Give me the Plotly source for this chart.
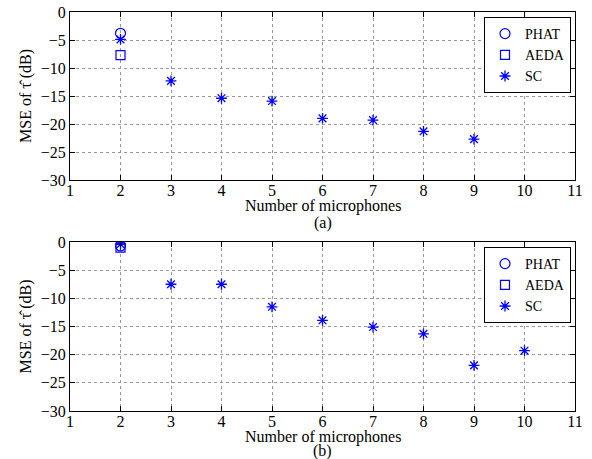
import plotly.graph_objects as go

# x positions (number of microphones)
phat_x = [2]
aeda_x = [2]
sc_x_a = [2, 3, 4, 5, 6, 7, 8, 9]
sc_x_b = [2, 3, 4, 5, 6, 7, 8, 9, 10]

# (a)
phat_a = [-3.8]
aeda_a = [-7.7]
sc_a = [-4.9, -12.3, -15.4, -15.9, -19.0, -19.3, -21.3, -22.7]

# (b)
phat_b = [-0.7]
aeda_b = [-1.0]
sc_b = [-0.4, -7.5, -7.5, -11.5, -13.9, -15.1, -16.3, -21.9, -19.3]

xticks = list(range(1, 12))
yticks = [0, -5, -10, -15, -20, -25, -30]

BLUE = "#0000ff"
FONT = "Liberation Serif"
FS = 16
W, H = 592, 459

def px(v):
    return v / W

def py(v):
    return 1 - v / H

fig = go.Figure()

panels = [
    ("x", "y", "legend", phat_a, aeda_a, sc_x_a, sc_a),
    ("x2", "y2", "legend2", phat_b, aeda_b, sc_x_b, sc_b),
]
for xa, ya, lg, ph, ae, scx, sc in panels:
    fig.add_trace(go.Scatter(x=phat_x, y=ph, mode="markers", name="PHAT", xaxis=xa, yaxis=ya, legend=lg,
                             marker=dict(symbol="circle-open", size=10, color=BLUE, line=dict(width=1.2, color=BLUE))))
    fig.add_trace(go.Scatter(x=aeda_x, y=ae, mode="markers", name="AEDA", xaxis=xa, yaxis=ya, legend=lg,
                             marker=dict(symbol="square-open", size=9, color=BLUE, line=dict(width=1.2, color=BLUE))))
    fig.add_trace(go.Scatter(x=scx, y=sc, mode="markers", name="SC", xaxis=xa, yaxis=ya, legend=lg,
                             marker=dict(symbol="asterisk-open", size=9, color=BLUE, line=dict(width=1.3, color=BLUE))))

xdom = [px(70), px(575)]
xmid = (xdom[0] + xdom[1]) / 2
axis_common = dict(
    showline=True, linecolor="black", linewidth=1, mirror="allticks",
    ticks="inside", ticklen=5, tickcolor="black",
    showgrid=True, gridcolor="#999999", griddash="dot", gridwidth=1,
    zeroline=False, tickfont=dict(family=FONT, size=FS, color="black"),
    automargin=False, ticklabeloverflow="allow",
)
ytitle = dict(text="MSE of τ̂ (dB)", standoff=5, font=dict(family=FONT, size=FS))
legend_common = dict(x=px(571), xanchor="right", yanchor="top",
                     bordercolor="black", borderwidth=1, bgcolor="white",
                     font=dict(family=FONT, size=14), itemwidth=30, tracegroupgap=0)

def label(text, y):
    return dict(text=text, x=xmid, y=py(y), xref="paper", yref="paper",
                showarrow=False, font=dict(family=FONT, size=FS), yanchor="middle")

fig.update_layout(
    width=W, height=H,
    margin=dict(l=0, r=0, t=0, b=0),
    paper_bgcolor="white", plot_bgcolor="white",
    font=dict(family=FONT, size=FS, color="black"),
    xaxis=dict(domain=xdom, anchor="y", range=[1, 11], tickvals=xticks, ticklabelstandoff=-4, **axis_common),
    yaxis=dict(domain=[py(180), py(12)], anchor="x", range=[-30, 0], tickvals=yticks, title=ytitle, **axis_common),
    xaxis2=dict(domain=xdom, anchor="y2", range=[1, 11], tickvals=xticks, ticklabelstandoff=-4, **axis_common),
    yaxis2=dict(domain=[py(411), py(242)], anchor="x2", range=[-30, 0], tickvals=yticks, title=ytitle, **axis_common),
    legend=dict(y=py(17), **legend_common),
    legend2=dict(y=py(247), **legend_common),
    annotations=[
        label("Number of microphones", 206),
        label("(a)", 223),
        label("Number of microphones", 437),
        label("(b)", 451),
    ],
)

fig.write_html("out.html", config={"displayModeBar": False},
               post_script="document.body.style.margin='0';")
